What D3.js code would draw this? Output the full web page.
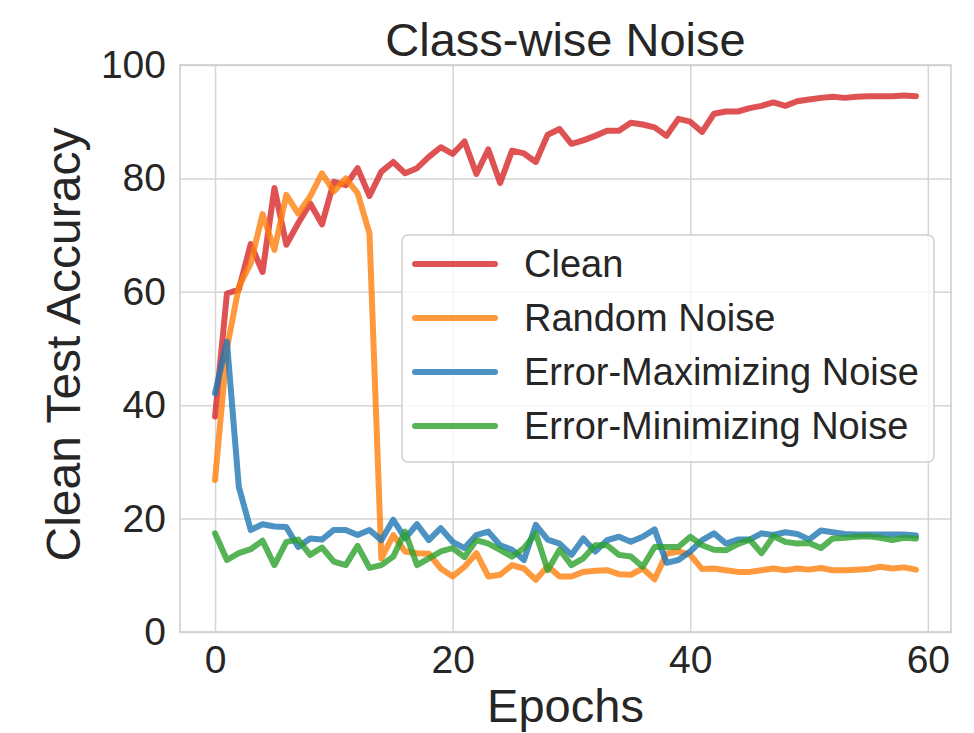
<!DOCTYPE html>
<html>
<head>
<meta charset="utf-8">
<script src="https://cdn.jsdelivr.net/npm/d3@7"></script>
<style>
  body { margin: 0; background: #fff; }
  text { font-family: "Liberation Sans", Arial, sans-serif; fill: #262626; }
</style>
</head>
<body>
<div id="chart"></div>
<script>
const width = 974;
const height = 733;

// values
const epochs = d3.range(0, 60);

const clean = [38.0, 59.7, 60.4, 68.4, 63.5, 78.3, 68.3, 72.1, 75.6, 71.9,
  79.4, 78.8, 81.8, 76.9, 81.2, 82.9, 80.9, 81.8, 83.8, 85.5,
  84.3, 86.5, 80.8, 85.1, 79.2, 84.9, 84.4, 82.9, 87.7, 88.7,
  86.1, 86.7, 87.5, 88.4, 88.4, 89.8, 89.5, 89.0, 87.5, 90.5,
  90.0, 88.2, 91.4, 91.8, 91.8, 92.4, 92.8, 93.4, 92.8, 93.6,
  93.9, 94.2, 94.4, 94.2, 94.4, 94.5, 94.5, 94.5, 94.6, 94.5];

const randomNoise = [26.8, 50.0, 60.9, 65.0, 73.7, 67.4, 77.1, 73.8, 76.8, 80.9,
  77.7, 80.0, 77.4, 70.3, 13.0, 17.1, 14.2, 13.9, 13.8, 11.2,
  9.8, 11.5, 13.9, 9.8, 10.1, 11.8, 11.2, 9.2, 11.6, 9.8,
  9.8, 10.6, 10.8, 10.9, 10.2, 10.1, 11.2, 9.3, 13.8, 14.2,
  13.6, 11.1, 11.2, 10.9, 10.6, 10.6, 10.9, 11.2, 10.9, 11.2,
  11.0, 11.3, 10.9, 10.9, 11.0, 11.1, 11.5, 11.2, 11.4, 11.0];

const errMax = [42.1, 51.2, 25.6, 18.0, 19.0, 18.6, 18.5, 15.0, 16.5, 16.3,
  18.0, 18.0, 17.1, 18.0, 16.2, 19.8, 16.5, 19.0, 16.2, 18.3,
  15.9, 14.8, 17.1, 17.7, 15.3, 14.5, 12.7, 18.9, 16.3, 15.6,
  13.6, 16.5, 14.2, 16.2, 16.8, 15.9, 16.8, 18.1, 12.2, 12.7,
  14.2, 16.2, 17.4, 15.6, 16.3, 16.3, 17.4, 17.1, 17.6, 17.3,
  16.3, 17.9, 17.6, 17.3, 17.2, 17.2, 17.2, 17.2, 17.2, 17.0];

const errMin = [17.4, 12.7, 13.9, 14.6, 16.1, 11.8, 15.9, 16.3, 13.6, 14.9,
  12.4, 11.8, 15.2, 11.3, 11.8, 13.3, 17.7, 11.8, 13.0, 14.2,
  14.8, 13.2, 16.2, 15.6, 14.5, 13.3, 14.8, 17.4, 10.9, 14.5,
  11.8, 13.0, 15.3, 15.3, 13.6, 13.3, 11.5, 15.0, 15.0, 15.0,
  16.8, 15.3, 14.5, 14.4, 15.5, 16.3, 13.9, 16.9, 15.9, 15.6,
  15.7, 14.8, 16.5, 16.6, 16.8, 16.9, 16.6, 16.2, 16.6, 16.5];

const seriesNames = ['Clean', 'Random Noise', 'Error-Maximizing Noise', 'Error-Minimizing Noise'];
const seriesColors = ['#d62728', '#ff7f0e', '#1f77b4', '#2ca02c'];
const xTicks = [0, 20, 40, 60];
const yTicks = [0, 20, 40, 60, 80, 100];

const margin = {top: 65, right: 23, bottom: 101, left: 180};
const innerW = width - margin.left - margin.right;
const innerH = height - margin.top - margin.bottom;

const series = [clean, randomNoise, errMax, errMin].map((values, i) => ({
  name: seriesNames[i],
  color: seriesColors[i],
  data: values.map((v, j) => ({x: epochs[j], y: v}))
}));

const x = d3.scaleLinear()
  .domain([-2.95, 61.95])
  .range([0, innerW]);

const y = d3.scaleLinear()
  .domain([0, 100])
  .range([innerH, 0]);

const svg = d3.select('#chart').append('svg')
  .attr('width', width)
  .attr('height', height);

const g = svg.append('g')
  .attr('transform', `translate(${margin.left},${margin.top})`);

// grid
g.append('g')
  .attr('transform', `translate(0,${innerH})`)
  .call(d3.axisBottom(x).tickValues(xTicks).tickSize(-innerH).tickFormat(''))
  .call(a => a.select('.domain').remove())
  .selectAll('line')
    .attr('stroke', '#d5d5d5')
    .attr('stroke-width', 1.5);

g.append('g')
  .call(d3.axisLeft(y).tickValues(yTicks).tickSize(-innerW).tickFormat(''))
  .call(a => a.select('.domain').remove())
  .selectAll('line')
    .attr('stroke', '#d5d5d5')
    .attr('stroke-width', 1.5);

// frame
g.append('rect')
  .attr('width', innerW)
  .attr('height', innerH)
  .attr('fill', 'none')
  .attr('stroke', '#cfcfcf')
  .attr('stroke-width', 1.6);

// tick labels
const xAxis = g.append('g')
  .attr('transform', `translate(0,${innerH})`)
  .call(d3.axisBottom(x).tickValues(xTicks).tickSize(0).tickPadding(13));
xAxis.select('.domain').remove();
xAxis.selectAll('text')
  .attr('font-size', 39)
  .attr('fill', '#262626');

const yAxis = g.append('g')
  .call(d3.axisLeft(y).tickValues(yTicks).tickSize(0).tickPadding(14));
yAxis.select('.domain').remove();
yAxis.selectAll('text')
  .attr('font-size', 39)
  .attr('fill', '#262626');

svg.selectAll('.tick text').style('font-family', '"Liberation Sans", Arial, sans-serif');

// lines
const line = d3.line()
  .x(d => x(d.x))
  .y(d => y(d.y));

g.selectAll('.chart-line')
  .data(series)
  .enter()
  .append('path')
    .attr('class', 'chart-line')
    .attr('d', d => line(d.data))
    .attr('fill', 'none')
    .attr('stroke', d => d.color)
    .attr('stroke-opacity', 0.8)
    .attr('stroke-width', 6)
    .attr('stroke-linejoin', 'round')
    .attr('stroke-linecap', 'round');

// title + axis labels
svg.append('text')
  .attr('x', margin.left + innerW / 2)
  .attr('y', 56)
  .attr('text-anchor', 'middle')
  .attr('font-size', 47)
  .text('Class-wise Noise');

svg.append('text')
  .attr('x', margin.left + innerW / 2)
  .attr('y', 722)
  .attr('text-anchor', 'middle')
  .attr('font-size', 47)
  .text('Epochs');

svg.append('text')
  .attr('transform', `translate(80,${margin.top + innerH / 2 - 4}) rotate(-90)`)
  .attr('text-anchor', 'middle')
  .attr('font-size', 48)
  .text('Clean Test Accuracy');

// legend
const legend = svg.append('g')
  .attr('transform', 'translate(402,235)');

legend.append('rect')
  .attr('width', 532)
  .attr('height', 227)
  .attr('rx', 6)
  .attr('fill', '#fff')
  .attr('fill-opacity', 0.8)
  .attr('stroke', '#d0d0d0')
  .attr('stroke-width', 1.5);

const item = legend.selectAll('.legend-item')
  .data(series)
  .enter()
  .append('g')
    .attr('class', 'legend-item')
    .attr('transform', (d, i) => `translate(0,${29 + i * 54})`);

item.append('line')
  .attr('x1', 13)
  .attr('x2', 93)
  .attr('stroke', d => d.color)
  .attr('stroke-opacity', 0.8)
  .attr('stroke-width', 6)
  .attr('stroke-linecap', 'round');

item.append('text')
  .attr('x', 122)
  .attr('dy', '0.35em')
  .attr('font-size', 38)
  .text(d => d.name);
</script>
</body>
</html>
